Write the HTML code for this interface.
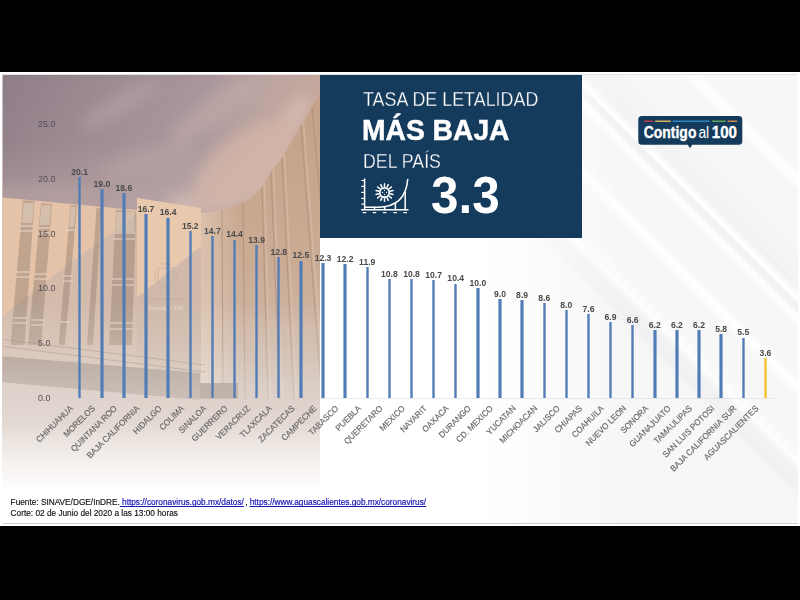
<!DOCTYPE html>
<html lang="es">
<head>
<meta charset="utf-8">
<title>Tasa de letalidad</title>
<style>
html,body{margin:0;padding:0;background:#000;}
body{width:800px;height:600px;position:relative;overflow:hidden;font-family:"Liberation Sans",sans-serif;}
#slide{position:absolute;left:0;top:72px;width:800px;height:454px;background:#fff;overflow:hidden;}
#bg{position:absolute;left:2px;top:73.6px;width:796px;height:450.4px;background-color:#f7f7f8;
background-image:linear-gradient(90deg,#fff 0,#fff 60%,rgba(255,255,255,0) 78%),linear-gradient(45deg,rgba(255,255,255,0) 44.5%,
rgba(255,255,255,0) 65.6%,rgba(230,230,234,.35) 66.8%,rgba(230,230,234,.3) 68%,rgba(255,255,255,.8) 68.9%,rgba(255,255,255,0) 70.4%,
rgba(255,255,255,0) 73.9%,rgba(255,255,255,.9) 74.8%,rgba(255,255,255,.9) 75.0%,rgba(255,255,255,0) 76%,
rgba(255,255,255,0) 79.6%,rgba(255,255,255,.9) 80.4%,rgba(255,255,255,.9) 80.6%,rgba(234,234,238,.4) 81.1%,rgba(234,234,238,.4) 81.5%,rgba(255,255,255,.9) 81.9%,rgba(255,255,255,.9) 82.1%,rgba(236,236,240,.45) 82.9%,rgba(240,240,243,0) 86.5%,
rgba(255,255,255,0) 90.5%,rgba(255,255,255,.9) 91.4%,rgba(255,255,255,.9) 91.7%,rgba(255,255,255,0) 92.7%);
border-top:1px solid #e3e3e3;box-sizing:border-box;}
#abs{position:absolute;left:0;top:-72px;width:800px;height:600px;}
#photo{position:absolute;left:0;top:72px;}
#bluebox{position:absolute;left:320px;top:74.5px;width:262px;height:163px;background:#143a5c;}
.tx{position:absolute;color:#fff;white-space:nowrap;transform-origin:0 0;}
.t1{left:362.7px;top:86.9px;font-size:21px;transform:scaleX(0.852);-webkit-text-stroke:0.3px #143a5c;}
.t2{left:361.9px;top:112.9px;font-size:30.3px;font-weight:700;transform:scaleX(0.932);-webkit-text-stroke:0.5px #fff;}
.t3{left:362.7px;top:148.6px;font-size:20.8px;transform:scaleX(0.853);-webkit-text-stroke:0.3px #143a5c;}
.t4{left:431px;top:165.8px;font-size:51px;font-weight:700;transform:scaleX(0.97);}
.bar{position:absolute;width:3.4px;}
.val{position:absolute;width:30px;text-align:center;font-size:8.6px;font-weight:700;color:#4a4a4a;white-space:nowrap;line-height:10px;}
.cat{position:absolute;font-size:8.5px;color:#6a6a6a;-webkit-text-stroke:0.18px #6a6a6a;white-space:nowrap;transform-origin:100% 0;transform:rotate(-45deg) scaleX(0.95);line-height:9px;}
.yl{position:absolute;left:38.2px;font-size:9.5px;color:#554e55;line-height:12px;transform-origin:0 50%;transform:scaleX(0.94);}
#botline{position:absolute;left:2.5px;top:522.6px;width:795px;height:1.6px;background:#cdcdcd;}
#axis{position:absolute;left:66px;top:397.6px;width:708px;height:1px;background:#cfcfcf;opacity:.4;}
.foot{position:absolute;left:10.6px;font-size:8.27px;line-height:9.6px;color:#111;-webkit-text-stroke:0.15px #111;white-space:nowrap;}
.foot a{color:#1818b4;text-decoration:underline;text-decoration-skip-ink:none;text-decoration-thickness:0.9px;-webkit-text-stroke:0.2px #1818b4;}
</style>
</head>
<body>
<div id="slide"><div id="abs">
<div id="bg"></div>
<svg id="photo" width="800" height="454" viewBox="0 72 800 454">
<defs>
<linearGradient id="sky" gradientUnits="userSpaceOnUse" x1="0" y1="75" x2="320" y2="115">
<stop offset="0" stop-color="#8e7d87"/><stop offset="0.36" stop-color="#9e8c94"/><stop offset="0.64" stop-color="#a9969c"/><stop offset="0.82" stop-color="#bca4a0"/><stop offset="1" stop-color="#c6a99d"/>
</linearGradient>
<linearGradient id="sky2" gradientUnits="userSpaceOnUse" x1="0" y1="75" x2="0" y2="212">
<stop offset="0" stop-color="#e6cdc0" stop-opacity="0"/><stop offset="0.5" stop-color="#e6cdc0" stop-opacity="0.05"/><stop offset="1" stop-color="#e6cdc0" stop-opacity="0.32"/>
</linearGradient>
<linearGradient id="fade" gradientUnits="userSpaceOnUse" x1="0" y1="300" x2="0" y2="492">
<stop offset="0" stop-color="#fff" stop-opacity="0"/>
<stop offset="0.21" stop-color="#fff" stop-opacity="0.14"/>
<stop offset="0.42" stop-color="#fff" stop-opacity="0.35"/>
<stop offset="0.64" stop-color="#fff" stop-opacity="0.5"/>
<stop offset="0.83" stop-color="#fff" stop-opacity="0.8"/>
<stop offset="1" stop-color="#fff" stop-opacity="1"/>
</linearGradient>
<linearGradient id="rb" gradientUnits="userSpaceOnUse" x1="0" y1="90" x2="0" y2="420">
<stop offset="0" stop-color="#c5a189"/><stop offset="0.515" stop-color="#caab94"/><stop offset="0.736" stop-color="#ceb6a4"/><stop offset="0.88" stop-color="#c5b1a3"/><stop offset="1" stop-color="#c7b3a6"/>
</linearGradient>
<linearGradient id="rbl" gradientUnits="userSpaceOnUse" x1="201" y1="0" x2="240" y2="0">
<stop offset="0" stop-color="#ecd8c6" stop-opacity="0.5"/><stop offset="1" stop-color="#ecd8c6" stop-opacity="0"/>
</linearGradient>
<linearGradient id="cb" gradientUnits="userSpaceOnUse" x1="0" y1="200" x2="0" y2="420">
<stop offset="0" stop-color="#d3bbaa"/><stop offset="0.6" stop-color="#cfb8a8"/><stop offset="1" stop-color="#c7b3a6"/>
</linearGradient>
<linearGradient id="shd" gradientUnits="userSpaceOnUse" x1="0" y1="214" x2="0" y2="430">
<stop offset="0" stop-color="#d2b9a8"/><stop offset="0.6" stop-color="#d4bcac"/><stop offset="0.85" stop-color="#c9b6aa"/><stop offset="1" stop-color="#c7b3a6"/>
</linearGradient>
<linearGradient id="slab" gradientUnits="userSpaceOnUse" x1="0" y1="355" x2="0" y2="400">
<stop offset="0" stop-color="#b8aaa0"/><stop offset="1" stop-color="#c9beb6"/>
</linearGradient>
<filter id="b1" x="-5%" y="-5%" width="110%" height="110%"><feGaussianBlur stdDeviation="0.7"/></filter>
<filter id="b6" x="-30%" y="-30%" width="160%" height="160%"><feGaussianBlur stdDeviation="7"/></filter>
<clipPath id="pc"><rect x="2.5" y="75" width="317.5" height="448"/></clipPath>
</defs>
<g clip-path="url(#pc)">
<rect x="0" y="70" width="325" height="450" fill="url(#sky)"/>
<rect x="0" y="70" width="325" height="150" fill="url(#sky2)"/>
<!-- clouds -->
<g filter="url(#b6)" opacity="0.6">
<ellipse cx="120" cy="105" rx="45" ry="10" fill="#b5a1a4" transform="rotate(-30 120 105)"/>
<ellipse cx="215" cy="110" rx="55" ry="13" fill="#c2aba8" transform="rotate(-35 215 110)"/>
<ellipse cx="150" cy="160" rx="50" ry="12" fill="#b9a4a5" transform="rotate(-15 150 160)"/>
<ellipse cx="40" cy="195" rx="60" ry="9" fill="#b9a3a2"/>
<path d="M170,208 C225,200 255,180 305,100" stroke="#dcc4b8" stroke-width="20" fill="none"/>
<ellipse cx="245" cy="165" rx="62" ry="30" fill="#dcbcaa" transform="rotate(-38 245 165)"/>
<ellipse cx="235" cy="175" rx="45" ry="22" fill="#dcbcaa" transform="rotate(-30 235 175)"/>
</g>
<g filter="url(#b1)">
<!-- left building -->
<polygon points="0,197.2 138,210.2 138,530 0,530" fill="#e5c3a8"/>
<polygon points="139,212 121,227 71,262 0,318 0,530 139,530" fill="url(#shd)"/>
<!-- window columns -->
<g fill="#8f7a68" opacity="0.42">
<polygon points="23,200 34.5,201 24.5,345 10.5,345"/>
<polygon points="41,203 52,204 41,345 28,345"/>
<polygon points="70.5,205 77,205.5 65,345 58.5,345"/>
<polygon points="96.5,208 101.5,208.5 93,345 87,345"/>
<polygon points="116,210 136,211.5 132,345 109,345"/>
</g>
<g fill="#f3e9de" opacity="0.4">
<polygon points="23.7,203 33.6,203 32.2,223 22.0,223"/>
<polygon points="41.5,205 51.0,205 49.4,225 39.7,225"/>
<polygon points="70.9,207 75.8,207 74.1,227 69.2,227"/>
<polygon points="116.3,212 134.9,212 134.4,232 115.3,232"/>
</g>
<!-- window frames (light breaks) -->
<g stroke="#efe2d6" stroke-width="1.1" opacity="0.85">
<path d="M19,226 H33 M19,231 H33 M16,272 H30 M16,277 H30 M13,318 H27 M13,323 H27"/>
<path d="M37,228 H50 M37,233 H50 M34,274 H47 M34,279 H47 M31,320 H44 M31,325 H44"/>
<path d="M66,230 H76 M63,276 H73 M63,281 H73 M60,322 H70"/>
<path d="M114,233 H135 M114,239 H135 M112,279 H134 M112,285 H134 M110,323 H133 M110,329 H133"/>
</g>
<!-- centre block -->
<polygon points="137,198 201,208 201,530 137,530" fill="#e8c9ae"/>
<polygon points="137,297.5 201,246 201,530 137,530" fill="url(#cb)"/>
<g opacity="0.55" fill="none" stroke="#b9a393" stroke-width="0.9">
<path d="M158,268 H174 V279 Q174,285 166,287 Q158,285 158,279 Z"/>
<path d="M161,264 H171 M155,272 V282 M177,272 V282"/>
<path d="M150,299 H184"/>
</g>
<text x="148.5" y="309.6" font-family="'Liberation Sans',sans-serif" font-size="5.6" font-weight="700" fill="#f6eee8" opacity="0.5" textLength="35" lengthAdjust="spacingAndGlyphs">Contigo 100</text>
<!-- right curved building -->
<path d="M201,213 L204,213 C210,212.5 226,209 234,206 C241,203.5 247,201 251,198 C256,194 259,191 262,187 L271,172 L282,158 L290,143.5 L301,126 L312,107 L320,94 L325,86 L325,530 L201,530 Z" fill="url(#rb)"/>
<path d="M201,213 L204,213 C210,212.5 226,209 234,206 L240,203.5 L240,384 L201,384 Z" fill="url(#rbl)"/>
<g stroke="#a98b74" stroke-width="1.2" opacity="0.6">
<line x1="222" y1="210" x2="223" y2="400"/>
<line x1="243" y1="203" x2="245" y2="400"/>
<line x1="262" y1="187" x2="268" y2="400"/>
<line x1="271" y1="172" x2="280" y2="400"/>
<line x1="282" y1="158" x2="294" y2="400"/>
<line x1="301" y1="126" x2="322" y2="400"/>
<line x1="312" y1="107" x2="322" y2="220"/>
</g>
<g stroke="#dcc3ae" stroke-width="1.6" opacity="0.55">
<line x1="264.5" y1="184" x2="270.5" y2="400"/>
<line x1="273.5" y1="169" x2="282.5" y2="400"/>
<line x1="284.5" y1="155" x2="296.5" y2="400"/>
<line x1="303.5" y1="123" x2="324" y2="390"/>
</g>
</g>
</g>
<rect x="2" y="300" width="318" height="223" fill="url(#fade)"/>
<g clip-path="url(#pc)">
<g filter="url(#b1)">
<polygon points="0,356 200,373 200,400 0,382" fill="url(#slab)" opacity="0.92"/>
<rect x="200" y="383" width="38" height="16" fill="#b9aca3" opacity="0.8"/>
<g stroke="#a89b93" stroke-width="0.7" opacity="0.75" fill="none">
<line x1="0" y1="339" x2="205" y2="365"/>
<line x1="0" y1="346" x2="205" y2="372"/>
</g>
</g>
</g>
</svg>
<div id="bluebox"></div>
<div class="tx t1">TASA DE LETALIDAD</div>
<div class="tx t2">MÁS BAJA</div>
<div class="tx t3">DEL PAÍS</div>
<div class="tx t4">3.3</div>
<svg id="icon" width="60" height="45" viewBox="355 174 60 45" style="position:absolute;left:355px;top:174px">
<g fill="none" stroke="#fff" stroke-width="1.5" stroke-linecap="round">
<path d="M364.6,179 V209.8 M361.7,209.8 H408"/>
<path d="M361.8,180.5 H364 M361.8,186.3 H364 M361.8,192.4 H364 M361.8,198.4 H364 M361.8,204.2 H364" stroke-width="1.2"/>
<path d="M364.6,207.2 H378 C394,207 406,199.5 407.7,179.6"/>
<path d="M374.5,207.2 V209.8 M384.7,207 V209.8 M395.4,203.6 V209.8 M405.2,192.5 V209.8"/>
<path d="M363.2,212.6 H365.8 M373.2,212.6 H375.8 M383.4,212.6 H386 M393.8,212.6 H396.4 M403.9,212.6 H406.5" stroke-width="1.2"/>
<circle cx="384.5" cy="192.5" r="4.7" stroke-width="1.7"/>
<path d="M384.50,186.50L384.50,183.80 M387.10,187.09L388.27,184.66 M389.19,188.76L391.30,187.08 M390.35,191.16L392.98,190.56 M390.35,193.84L392.98,194.44 M389.19,196.24L391.30,197.92 M387.10,197.91L388.27,200.34 M384.50,198.50L384.50,201.20 M381.90,197.91L380.73,200.34 M379.81,196.24L377.70,197.92 M378.65,193.84L376.02,194.44 M378.65,191.16L376.02,190.56 M379.81,188.76L377.70,187.08 M381.90,187.09L380.73,184.66" stroke-width="1.5"/>
</g>
<g fill="#fff"><circle cx="384.5" cy="190.4" r="0.7"/><circle cx="382.5" cy="192.5" r="0.7"/><circle cx="386.5" cy="192.5" r="0.7"/><circle cx="384.5" cy="194.6" r="0.7"/></g>
</svg>
<svg id="logo" width="120" height="44" viewBox="630 110 120 44" style="position:absolute;left:630px;top:110px">
<path d="M641.8,116 H738.8 Q742.3,116 742.3,119.5 V141.3 Q742.3,144.8 738.8,144.8 H692.2 L690,148.3 L687.8,144.8 H641.8 Q638.3,144.8 638.3,141.3 V119.5 Q638.3,116 641.8,116 Z" fill="#143a5c"/>
<g stroke-width="1.5" stroke-linecap="round" fill="none">
<path d="M644.6,121.2 H652.6" stroke="#b93a4a"/>
<path d="M655.6,121.2 H670.4" stroke="#d9b25a"/>
<path d="M673,121.2 H709" stroke="#2f86c0"/>
<path d="M712.6,121.2 H725.2" stroke="#5aa55a"/>
<path d="M728.2,121.2 H736.6" stroke="#c98a52"/>
</g>
<g fill="#fff" stroke="#fff" stroke-width="0.35" font-family="'Liberation Sans',sans-serif">
<text x="643.8" y="138.2" font-size="16.2" font-weight="700" textLength="52.6" lengthAdjust="spacingAndGlyphs">Contigo</text>
<text x="698.4" y="138.2" font-size="16" textLength="10.8" lengthAdjust="spacingAndGlyphs" stroke="none">al</text>
<text x="711.8" y="138.2" font-size="15.6" font-weight="700" textLength="25.2" lengthAdjust="spacingAndGlyphs">100</text>
</g>
</svg>
<div class="yl" style="top:392.00px">0.0</div>
<div class="yl" style="top:337.20px">5.0</div>
<div class="yl" style="top:282.40px">10.0</div>
<div class="yl" style="top:227.60px">15.0</div>
<div class="yl" style="top:172.80px">20.0</div>
<div class="yl" style="top:118.00px">25.0</div>
<div id="axis"></div>
<div class="bar" style="left:78.00px;top:176.90px;height:221.10px;background:linear-gradient(90deg,rgba(82,124,181,.3) 0,rgb(82,124,181) 30%,rgb(82,124,181) 70%,rgba(82,124,181,.3) 100%)"></div>
<div class="bar" style="left:100.12px;top:189.00px;height:209.00px;background:linear-gradient(90deg,rgba(82,124,181,.3) 0,rgb(82,124,181) 30%,rgb(82,124,181) 70%,rgba(82,124,181,.3) 100%)"></div>
<div class="bar" style="left:122.24px;top:193.40px;height:204.60px;background:linear-gradient(90deg,rgba(82,124,181,.3) 0,rgb(82,124,181) 30%,rgb(82,124,181) 70%,rgba(82,124,181,.3) 100%)"></div>
<div class="bar" style="left:144.36px;top:214.30px;height:183.70px;background:linear-gradient(90deg,rgba(82,124,181,.3) 0,rgb(82,124,181) 30%,rgb(82,124,181) 70%,rgba(82,124,181,.3) 100%)"></div>
<div class="bar" style="left:166.48px;top:217.60px;height:180.40px;background:linear-gradient(90deg,rgba(82,124,181,.3) 0,rgb(82,124,181) 30%,rgb(82,124,181) 70%,rgba(82,124,181,.3) 100%)"></div>
<div class="bar" style="left:188.60px;top:230.80px;height:167.20px;background:linear-gradient(90deg,rgba(82,124,181,.3) 0,rgb(82,124,181) 30%,rgb(82,124,181) 70%,rgba(82,124,181,.3) 100%)"></div>
<div class="bar" style="left:210.72px;top:236.30px;height:161.70px;background:linear-gradient(90deg,rgba(82,124,181,.3) 0,rgb(82,124,181) 30%,rgb(82,124,181) 70%,rgba(82,124,181,.3) 100%)"></div>
<div class="bar" style="left:232.84px;top:239.60px;height:158.40px;background:linear-gradient(90deg,rgba(82,124,181,.3) 0,rgb(82,124,181) 30%,rgb(82,124,181) 70%,rgba(82,124,181,.3) 100%)"></div>
<div class="bar" style="left:254.96px;top:245.10px;height:152.90px;background:linear-gradient(90deg,rgba(82,124,181,.3) 0,rgb(82,124,181) 30%,rgb(82,124,181) 70%,rgba(82,124,181,.3) 100%)"></div>
<div class="bar" style="left:277.08px;top:257.20px;height:140.80px;background:linear-gradient(90deg,rgba(82,124,181,.3) 0,rgb(82,124,181) 30%,rgb(82,124,181) 70%,rgba(82,124,181,.3) 100%)"></div>
<div class="bar" style="left:299.20px;top:260.50px;height:137.50px;background:linear-gradient(90deg,rgba(82,124,181,.3) 0,rgb(82,124,181) 30%,rgb(82,124,181) 70%,rgba(82,124,181,.3) 100%)"></div>
<div class="bar" style="left:321.32px;top:262.70px;height:135.30px;background:linear-gradient(90deg,rgba(82,124,181,.3) 0,rgb(82,124,181) 30%,rgb(82,124,181) 70%,rgba(82,124,181,.3) 100%)"></div>
<div class="bar" style="left:343.44px;top:263.80px;height:134.20px;background:linear-gradient(90deg,rgba(82,124,181,.3) 0,rgb(82,124,181) 30%,rgb(82,124,181) 70%,rgba(82,124,181,.3) 100%)"></div>
<div class="bar" style="left:365.56px;top:267.10px;height:130.90px;background:linear-gradient(90deg,rgba(82,124,181,.3) 0,rgb(82,124,181) 30%,rgb(82,124,181) 70%,rgba(82,124,181,.3) 100%)"></div>
<div class="bar" style="left:387.68px;top:279.20px;height:118.80px;background:linear-gradient(90deg,rgba(82,124,181,.3) 0,rgb(82,124,181) 30%,rgb(82,124,181) 70%,rgba(82,124,181,.3) 100%)"></div>
<div class="bar" style="left:409.80px;top:279.20px;height:118.80px;background:linear-gradient(90deg,rgba(82,124,181,.3) 0,rgb(82,124,181) 30%,rgb(82,124,181) 70%,rgba(82,124,181,.3) 100%)"></div>
<div class="bar" style="left:431.92px;top:280.30px;height:117.70px;background:linear-gradient(90deg,rgba(82,124,181,.3) 0,rgb(82,124,181) 30%,rgb(82,124,181) 70%,rgba(82,124,181,.3) 100%)"></div>
<div class="bar" style="left:454.04px;top:283.60px;height:114.40px;background:linear-gradient(90deg,rgba(82,124,181,.3) 0,rgb(82,124,181) 30%,rgb(82,124,181) 70%,rgba(82,124,181,.3) 100%)"></div>
<div class="bar" style="left:476.16px;top:288.00px;height:110.00px;background:linear-gradient(90deg,rgba(82,124,181,.3) 0,rgb(82,124,181) 30%,rgb(82,124,181) 70%,rgba(82,124,181,.3) 100%)"></div>
<div class="bar" style="left:498.28px;top:299.00px;height:99.00px;background:linear-gradient(90deg,rgba(82,124,181,.3) 0,rgb(82,124,181) 30%,rgb(82,124,181) 70%,rgba(82,124,181,.3) 100%)"></div>
<div class="bar" style="left:520.40px;top:300.10px;height:97.90px;background:linear-gradient(90deg,rgba(82,124,181,.3) 0,rgb(82,124,181) 30%,rgb(82,124,181) 70%,rgba(82,124,181,.3) 100%)"></div>
<div class="bar" style="left:542.52px;top:303.40px;height:94.60px;background:linear-gradient(90deg,rgba(82,124,181,.3) 0,rgb(82,124,181) 30%,rgb(82,124,181) 70%,rgba(82,124,181,.3) 100%)"></div>
<div class="bar" style="left:564.64px;top:310.00px;height:88.00px;background:linear-gradient(90deg,rgba(82,124,181,.3) 0,rgb(82,124,181) 30%,rgb(82,124,181) 70%,rgba(82,124,181,.3) 100%)"></div>
<div class="bar" style="left:586.76px;top:314.40px;height:83.60px;background:linear-gradient(90deg,rgba(82,124,181,.3) 0,rgb(82,124,181) 30%,rgb(82,124,181) 70%,rgba(82,124,181,.3) 100%)"></div>
<div class="bar" style="left:608.88px;top:322.10px;height:75.90px;background:linear-gradient(90deg,rgba(82,124,181,.3) 0,rgb(82,124,181) 30%,rgb(82,124,181) 70%,rgba(82,124,181,.3) 100%)"></div>
<div class="bar" style="left:631.00px;top:325.40px;height:72.60px;background:linear-gradient(90deg,rgba(82,124,181,.3) 0,rgb(82,124,181) 30%,rgb(82,124,181) 70%,rgba(82,124,181,.3) 100%)"></div>
<div class="bar" style="left:653.12px;top:329.80px;height:68.20px;background:linear-gradient(90deg,rgba(82,124,181,.3) 0,rgb(82,124,181) 30%,rgb(82,124,181) 70%,rgba(82,124,181,.3) 100%)"></div>
<div class="bar" style="left:675.24px;top:329.80px;height:68.20px;background:linear-gradient(90deg,rgba(82,124,181,.3) 0,rgb(82,124,181) 30%,rgb(82,124,181) 70%,rgba(82,124,181,.3) 100%)"></div>
<div class="bar" style="left:697.36px;top:329.80px;height:68.20px;background:linear-gradient(90deg,rgba(82,124,181,.3) 0,rgb(82,124,181) 30%,rgb(82,124,181) 70%,rgba(82,124,181,.3) 100%)"></div>
<div class="bar" style="left:719.48px;top:334.20px;height:63.80px;background:linear-gradient(90deg,rgba(82,124,181,.3) 0,rgb(82,124,181) 30%,rgb(82,124,181) 70%,rgba(82,124,181,.3) 100%)"></div>
<div class="bar" style="left:741.60px;top:337.50px;height:60.50px;background:linear-gradient(90deg,rgba(82,124,181,.3) 0,rgb(82,124,181) 30%,rgb(82,124,181) 70%,rgba(82,124,181,.3) 100%)"></div>
<div class="bar" style="left:763.72px;top:358.40px;height:39.60px;background:linear-gradient(90deg,rgba(243,193,43,.3) 0,rgb(243,193,43) 30%,rgb(243,193,43) 70%,rgba(243,193,43,.3) 100%)"></div>
<div class="val" style="left:64.70px;top:166.70px">20.1</div>
<div class="val" style="left:86.82px;top:178.80px">19.0</div>
<div class="val" style="left:108.94px;top:183.20px">18.6</div>
<div class="val" style="left:131.06px;top:204.10px">16.7</div>
<div class="val" style="left:153.18px;top:207.40px">16.4</div>
<div class="val" style="left:175.30px;top:220.60px">15.2</div>
<div class="val" style="left:197.42px;top:226.10px">14.7</div>
<div class="val" style="left:219.54px;top:229.40px">14.4</div>
<div class="val" style="left:241.66px;top:234.90px">13.9</div>
<div class="val" style="left:263.78px;top:247.00px">12.8</div>
<div class="val" style="left:285.90px;top:250.30px">12.5</div>
<div class="val" style="left:308.02px;top:252.50px">12.3</div>
<div class="val" style="left:330.14px;top:253.60px">12.2</div>
<div class="val" style="left:352.26px;top:256.90px">11.9</div>
<div class="val" style="left:374.38px;top:269.00px">10.8</div>
<div class="val" style="left:396.50px;top:269.00px">10.8</div>
<div class="val" style="left:418.62px;top:270.10px">10.7</div>
<div class="val" style="left:440.74px;top:273.40px">10.4</div>
<div class="val" style="left:462.86px;top:277.80px">10.0</div>
<div class="val" style="left:484.98px;top:288.80px">9.0</div>
<div class="val" style="left:507.10px;top:289.90px">8.9</div>
<div class="val" style="left:529.22px;top:293.20px">8.6</div>
<div class="val" style="left:551.34px;top:299.80px">8.0</div>
<div class="val" style="left:573.46px;top:304.20px">7.6</div>
<div class="val" style="left:595.58px;top:311.90px">6.9</div>
<div class="val" style="left:617.70px;top:315.20px">6.6</div>
<div class="val" style="left:639.82px;top:319.60px">6.2</div>
<div class="val" style="left:661.94px;top:319.60px">6.2</div>
<div class="val" style="left:684.06px;top:319.60px">6.2</div>
<div class="val" style="left:706.18px;top:324.00px">5.8</div>
<div class="val" style="left:728.30px;top:327.30px">5.5</div>
<div class="val" style="left:750.42px;top:348.20px">3.6</div>
<div class="cat" style="right:731.30px;top:404.30px">CHIHUAHUA</div>
<div class="cat" style="right:709.18px;top:404.30px">MORELOS</div>
<div class="cat" style="right:687.06px;top:404.30px">QUINTANA ROO</div>
<div class="cat" style="right:664.94px;top:404.30px">BAJA CALIFORNIA</div>
<div class="cat" style="right:642.82px;top:404.30px">HIDALGO</div>
<div class="cat" style="right:620.70px;top:404.30px">COLIMA</div>
<div class="cat" style="right:598.58px;top:404.30px">SINALOA</div>
<div class="cat" style="right:576.46px;top:404.30px">GUERRERO</div>
<div class="cat" style="right:554.34px;top:404.30px">VERACRUZ</div>
<div class="cat" style="right:532.22px;top:404.30px">TLAXCALA</div>
<div class="cat" style="right:510.10px;top:404.30px">ZACATECAS</div>
<div class="cat" style="right:487.98px;top:404.30px">CAMPECHE</div>
<div class="cat" style="right:465.86px;top:404.30px">TABASCO</div>
<div class="cat" style="right:443.74px;top:404.30px">PUEBLA</div>
<div class="cat" style="right:421.62px;top:404.30px">QUERETARO</div>
<div class="cat" style="right:399.50px;top:404.30px">MEXICO</div>
<div class="cat" style="right:377.38px;top:404.30px">NAYARIT</div>
<div class="cat" style="right:355.26px;top:404.30px">OAXACA</div>
<div class="cat" style="right:333.14px;top:404.30px">DURANGO</div>
<div class="cat" style="right:311.02px;top:404.30px">CD. MEXICO</div>
<div class="cat" style="right:288.90px;top:404.30px">YUCATAN</div>
<div class="cat" style="right:266.78px;top:404.30px">MICHOACAN</div>
<div class="cat" style="right:244.66px;top:404.30px">JALISCO</div>
<div class="cat" style="right:222.54px;top:404.30px">CHIAPAS</div>
<div class="cat" style="right:200.42px;top:404.30px">COAHUILA</div>
<div class="cat" style="right:178.30px;top:404.30px">NUEVO LEON</div>
<div class="cat" style="right:156.18px;top:404.30px">SONORA</div>
<div class="cat" style="right:134.06px;top:404.30px">GUANAJUATO</div>
<div class="cat" style="right:111.94px;top:404.30px">TAMAULIPAS</div>
<div class="cat" style="right:89.82px;top:404.30px">SAN LUIS POTOSI</div>
<div class="cat" style="right:67.70px;top:404.30px">BAJA CALIFORNIA SUR</div>
<div class="cat" style="right:45.58px;top:404.30px">AGUASCALIENTES</div>
<div class="foot" style="top:498.4px">Fuente: SINAVE/DGE/InDRE.<a> https://coronavirus.gob.mx/datos/</a><span style="margin-left:1.3px">,</span> <a>https://www.aguascalientes.gob.mx/coronavirus/</a></div>
<div class="foot" style="top:508.8px">Corte: 02 de Junio del 2020 a las 13:00 horas</div>
<div id="botline"></div>
</div></div>
</body>
</html>
